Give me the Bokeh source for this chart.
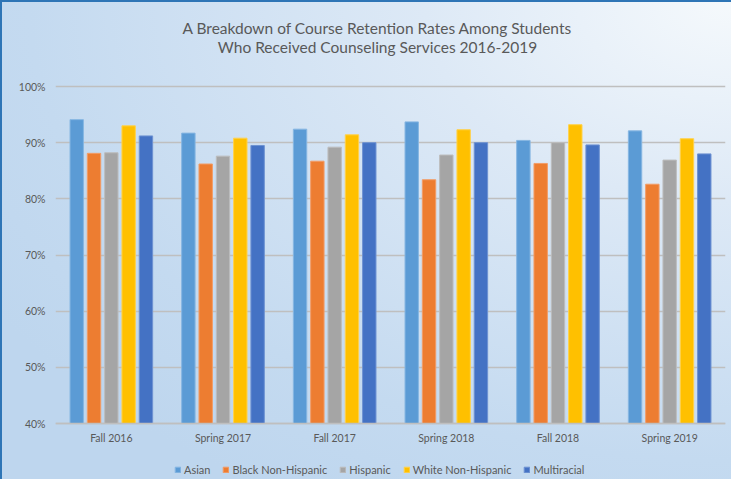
from bokeh.plotting import figure
from bokeh.models import (FactorRange, ColumnDataSource, Legend, LegendItem,
                          NumeralTickFormatter, FixedTicker, Label, Range1d)
from bokeh.embed import file_html
from bokeh.resources import INLINE
from bokeh.transform import dodge

periods = ["Fall 2016", "Spring 2017", "Fall 2017", "Spring 2018", "Fall 2018", "Spring 2019"]
series_names = ["Asian", "Black Non-Hispanic", "Hispanic", "White Non-Hispanic", "Multiracial"]
asian = [0.941, 0.917, 0.924, 0.937, 0.904, 0.921]
black = [0.881, 0.862, 0.867, 0.834, 0.863, 0.826]
hispanic = [0.882, 0.876, 0.892, 0.878, 0.900, 0.869]
white = [0.930, 0.908, 0.914, 0.923, 0.932, 0.907]
multiracial = [0.912, 0.895, 0.900, 0.900, 0.896, 0.880]
y_ticks = [0.4, 0.5, 0.6, 0.7, 0.8, 0.9, 1.0]
axis_base = 0.4
title_lines = ["A Breakdown of Course Retention Rates Among Students",
               "Who Received Counseling Services 2016-2019"]

colors = ["#5B9BD5", "#ED7D31", "#A5A5A5", "#FFC000", "#4472C4"]
edges = ["#86B6E2", "#F29C66", "#BDBDBD", "#FFD24D", "#6E92D2"]

source = ColumnDataSource(dict(period=periods, asian=asian, black=black,
                               hispanic=hispanic, white=white, multiracial=multiracial))
cols = ["asian", "black", "hispanic", "white", "multiracial"]

FONT = "Lato"
TXT = "#595959"

# frame covers full height; 40% sits 56px above the bottom, 100% sits 86px below the top
W, H = 731, 479
px_per_unit = (H - 86 - 56) / 0.6
y_lo = 0.4 - 56 / px_per_unit
y_hi = 1.0 + 86 / px_per_unit

p = figure(x_range=FactorRange(factors=periods), y_range=Range1d(y_lo, y_hi),
           width=W, height=H, output_backend="svg", toolbar_location=None,
           min_border_left=55, min_border_right=6, min_border_top=0, min_border_bottom=0)
p.title = None

p.styles = {"background": "radial-gradient(ellipse 120% 120% at 100% 0%, #F5F9FC 0%, #DDE9F6 35%, #C4DAF0 80%, #BED6EE 100%)",
            "box-shadow": "inset 2px 2px 0 #2E75B6"}
p.border_fill_color = None
p.background_fill_color = None
p.outline_line_color = None

offsets = [-0.31, -0.155, 0.0, 0.155, 0.31]
items = []
for c, name, col, ec, off in zip(cols, series_names, colors, edges, offsets):
    r = p.vbar(x=dodge("period", off, range=p.x_range), top=c, bottom=axis_base, width=0.12,
               source=source, fill_color=col, line_color=ec, line_width=1)
    items.append(LegendItem(label=name, renderers=[r]))

p.yaxis.ticker = FixedTicker(ticks=y_ticks)
p.yaxis.formatter = NumeralTickFormatter(format="0%")
p.yaxis.axis_line_color = None
p.yaxis.major_tick_line_color = None
p.yaxis.minor_tick_line_color = None
p.yaxis.major_tick_out = 0
p.yaxis.major_tick_in = 0
p.yaxis.major_label_standoff = 10
p.xaxis.fixed_location = axis_base
p.xaxis.axis_line_color = "#BFBFBF"
p.xaxis.axis_line_width = 1.5
p.xaxis.major_tick_line_color = None
p.xaxis.minor_tick_line_color = None
p.xaxis.major_tick_out = 0
p.xaxis.major_tick_in = 0
p.xaxis.major_label_standoff = 8
for ax in (p.xaxis, p.yaxis):
    ax.major_label_text_font = FONT
    ax.major_label_text_font_size = "10.5px"
    ax.major_label_text_color = TXT

p.xgrid.grid_line_color = None
p.ygrid.grid_line_color = "#BFBFBF"
p.ygrid.grid_line_width = 1.3

# title lines (screen units relative to the frame's bottom-left)
for txt, ypos in zip(title_lines, [H - 27, H - 46]):
    p.add_layout(Label(x=377 - 55, y=ypos, x_units="screen", y_units="screen", text=txt,
                       text_align="center", text_baseline="middle", text_font=FONT,
                       text_font_size="15.5px", text_color=TXT))

legend = Legend(items=items, orientation="horizontal", location=(119, 3),
                background_fill_alpha=0, border_line_color=None,
                glyph_width=7, glyph_height=7, label_standoff=3, spacing=12,
                label_text_font=FONT, label_text_font_size="11px", label_text_color=TXT,
                margin=0, padding=4)
p.add_layout(legend, "center")

open("out.html", "w").write(file_html(p, INLINE))
